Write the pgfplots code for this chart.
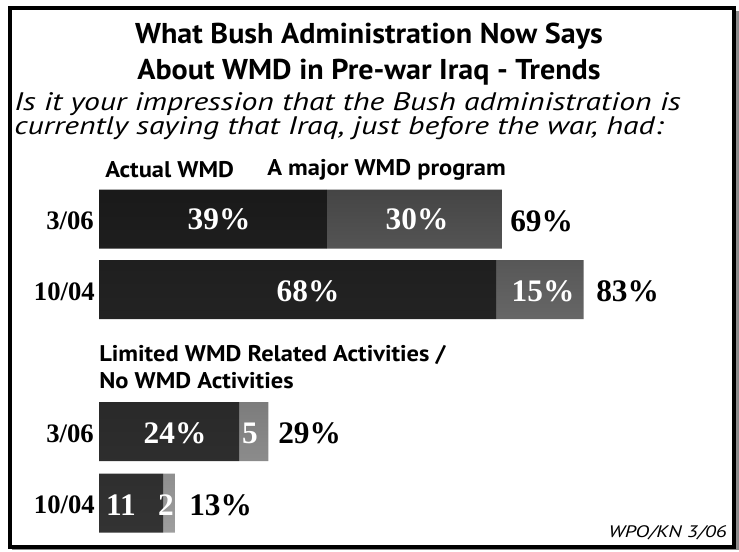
\documentclass[border=0pt]{standalone}
\usepackage{pgfplots}
\pgfplotsset{compat=1.18}
\usepackage{fontspec}
\setmainfont{Liberation Serif}
\newfontfamily\ttl[FakeStretch=1.05]{PT Sans}
\newfontfamily\lab[FakeStretch=1.08]{PT Sans}
\newfontfamily\sub[FakeStretch=1.25]{PT Sans}
\begin{document}
\begin{tikzpicture}
\begin{axis}[at={(0pt,-412.5pt)}, anchor=south west, scale only axis,
  width=554.25pt, height=412.5pt,
  xmin=-16.952, xmax=109.589, ymin=0, ymax=550, y dir=reverse,
  hide axis, clip=false, xbar stacked, bar width=44.25pt]
\addplot[draw=none, top color=black!90, bottom color=black!80] coordinates {(39,219) (68,289.5) (24,431.5) (11,503)};
\addplot[draw=none, top color=black!73, bottom color=black!38] coordinates {(30,219) (15,289.5) (5,431.5) (2,503)};
\end{axis}
\begin{scope}[x=0.75pt,y=-0.75pt]
\path (0,0) rectangle (739,550);
% frame
\draw[black!45, line width=2.25pt] (737.2,11) -- (737.2,550);
\draw[black!45, line width=0.75pt] (12,549.4) -- (737,549.4);
\draw[line width=3pt] (10,7.5) rectangle (733.5,546.5);
% titles
\node[font=\ttl\bfseries\fontsize{21.5}{25}\selectfont, anchor=center] at (369,36) {What Bush Administration Now Says};
\node[font=\ttl\bfseries\fontsize{21.5}{25}\selectfont, anchor=center] at (369,72) {About WMD in Pre-war Iraq - Trends};
\node[font=\sub\itshape\fontsize{19}{22}\selectfont, anchor=west, inner sep=0pt] at (14,104) {Is it your impression that the Bush administration is};
\node[font=\sub\itshape\fontsize{19}{22}\selectfont, anchor=west, inner sep=0pt] at (14,128) {currently saying that Iraq, just before the war, had:};
\node[font=\lab\bfseries\fontsize{17}{20}\selectfont, anchor=west, inner sep=0pt] at (105,170) {Actual WMD};
\node[font=\lab\bfseries\fontsize{17}{20}\selectfont, anchor=west, inner sep=0pt] at (267,170) {A major WMD program};
\node[font=\lab\bfseries\fontsize{17}{20}\selectfont, anchor=west, inner sep=0pt] at (99,355) {Limited WMD Related Activities /};
\node[font=\lab\bfseries\fontsize{17}{20}\selectfont, anchor=west, inner sep=0pt] at (99,381) {No WMD Activities};
\node[font=\sub\itshape\fontsize{12.5}{14}\selectfont, anchor=east, inner sep=0pt] at (727,533) {WPO/KN 3/06};
% category labels
\begin{scope}[every node/.style={font=\bfseries\fontsize{20}{24}\selectfont, anchor=east, inner sep=0pt}]
\node at (94,221) {3/06};
\node at (95,292) {10/04};
\node at (94,434) {3/06};
\node at (95,505) {10/04};
\end{scope}
% in-bar labels
\begin{scope}[every node/.style={font=\bfseries\fontsize{23.5}{27}\selectfont, text=white, anchor=center, inner sep=0pt}]
\node at (219,219) {39\%};
\node at (417,219) {30\%};
\node at (308,291) {68\%};
\node at (543,291) {15\%};
\node at (175,433) {24\%};
\node at (250,433) {5};
\node at (121,505) {11};
\node at (166,505) {2};
\end{scope}
% totals
\begin{scope}[every node/.style={font=\bfseries\fontsize{23.5}{27}\selectfont, anchor=west, inner sep=0pt}]
\node at (510,221) {69\%};
\node at (596,291) {83\%};
\node at (278,433) {29\%};
\node at (189,505) {13\%};
\end{scope}
\end{scope}
\end{tikzpicture}
\end{document}
